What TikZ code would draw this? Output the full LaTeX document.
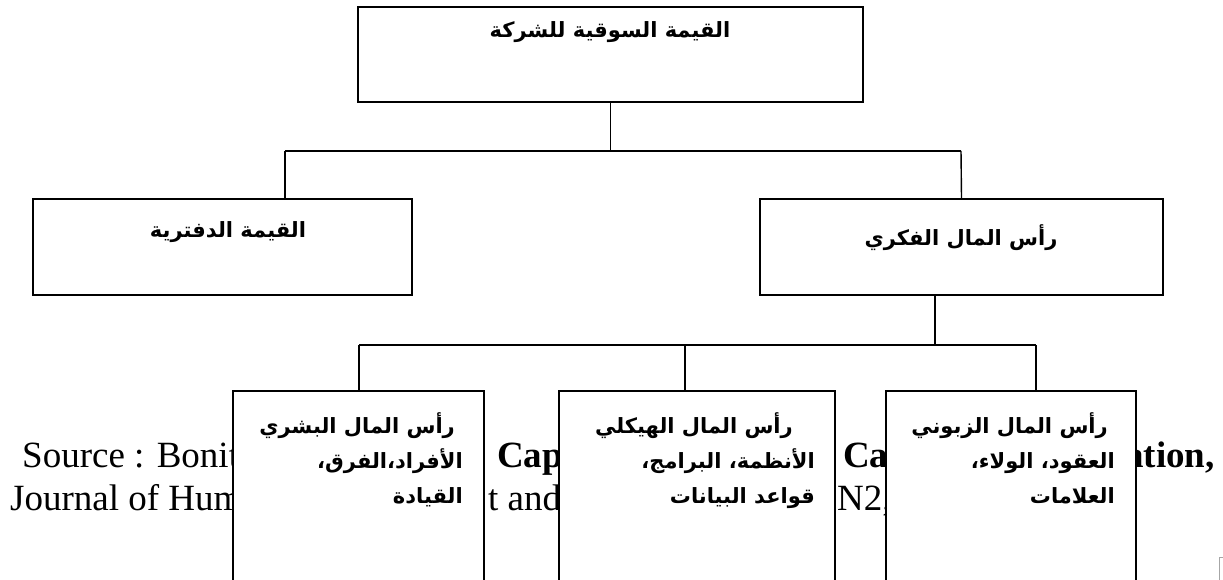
\documentclass[tikz,border=0pt]{standalone}
\usepackage{fontspec}
\setmainfont{Liberation Serif}
\newfontfamily\arabicfont[Script=Arabic]{DejaVu Sans}
\usetikzlibrary{positioning,calc}
\TeXXeTstate=1

\begin{document}
\begin{tikzpicture}[x=1pt, y=-1pt,
        box/.style={draw, line width=1.6pt, fill=white, inner sep=0pt},
        link/.style={line width=1.4pt},
        artxt/.style={font=\arabicfont\bfseries\fontsize{21}{35}\selectfont, inner sep=0pt},
        src/.style={font=\fontsize{37}{43}\selectfont, inner sep=0pt, anchor=base west}
    ]
        \useasboundingbox (0,0) rectangle (1223,580);
        \clip (0,0) rectangle (1223,580);

        % Source line behind the boxes
        \node[src] (srca) at (22, 467) {Source : Bonit};
        \node[src] (srcb) at (497, 467) {\bfseries Cap};
        \node[src] (srcc) at (843, 467) {\bfseries Ca};
        \node[src, anchor=base east] (srcd) at (1215, 467) {\bfseries ation,};
        \node[src] (srce) at (10, 510) {Journal of Hum};
        \node[src] (srcf) at (488, 510) {t and};
        \node[src] (srcg) at (837, 510) {N2,};

        % Market value
        \node[box, minimum width=505, minimum height=95] (market) at (610.5, 54.5) {};
        \node[artxt, anchor=base] (markett) at (610, 38) {\beginR القيمة السوقية للشركة\endR};

        % Book value and intellectual capital
        \node[box, minimum width=379, minimum height=96] (book) at (222.5, 247) {};
        \node[artxt, anchor=base] (bookt) at (228, 237) {\beginR القيمة الدفترية\endR};
        \node[box, minimum width=403, minimum height=96] (intel) at (961.5, 247) {};
        \node[artxt, anchor=base] (intelt) at (961, 245) {\beginR رأس المال الفكري\endR};

        % Three kinds of capital
        \node[box, minimum width=251, minimum height=249] (human) at (358.5, 515.5) {};
        \node[artxt, anchor=north east, align=right] (humant) at (463, 412) {
            \beginR رأس المال البشري\endR\kern8pt\\
            \beginR الأفراد،الفرق،\endR\\
            \beginR القيادة\endR
        };
        \node[box, minimum width=276, minimum height=249] (struct) at (697, 515.5) {};
        \node[artxt, anchor=north east, align=right] (structt) at (815, 412) {
            \beginR رأس المال الهيكلي\endR\kern22pt\\
            \beginR الأنظمة، البرامج،\endR\\
            \beginR قواعد البيانات\endR
        };
        \node[box, minimum width=250, minimum height=249] (client) at (1011, 515.5) {};
        \node[artxt, anchor=north east, align=right] (clientt) at (1115, 412) {
            \beginR رأس المال الزبوني\endR\kern7pt\\
            \beginR العقود، الولاء،\endR\\
            \beginR العلامات\endR
        };

        % Junctions
        \coordinate (bookj) at (285, 151);
        \coordinate (intelj) at (961, 151);
        \coordinate (downj) at (935, 345);
        \coordinate (humanj) at (359, 345);
        \coordinate (structj) at (685, 345);
        \coordinate (clientj) at (1036, 345);

        % Lines
        \draw[link] (market.south) -- (market.south |- bookj);
        \draw[link] (bookj) -- (intelj);
        \draw[link] (bookj) -- (bookj |- book.north);
        \draw[link] (intelj) -- (intel.north);

        \draw[link] (intel.south -| downj) -- (downj);
        \draw[link] (humanj) -- (clientj);
        \draw[link] (humanj) -- (humanj |- human.north);
        \draw[link] (structj) -- (structj |- struct.north);
        \draw[link] (clientj) -- (clientj |- client.north);

        \draw[gray!70, line width=0.8pt] (1223,557) -- (1219,557) -- (1219,580);
    \end{tikzpicture}
\end{document}
